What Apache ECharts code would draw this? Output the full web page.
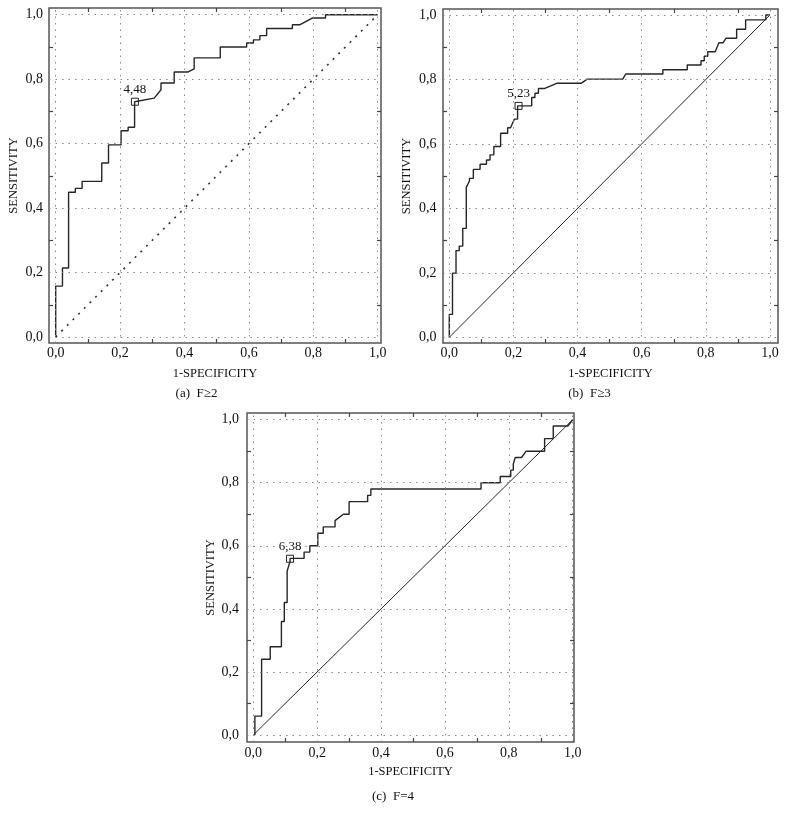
<!DOCTYPE html>
<html><head><meta charset="utf-8">
<script src="https://cdn.jsdelivr.net/npm/echarts@6/dist/echarts.min.js"></script>
<style>html,body{margin:0;padding:0;background:#fff}#c{width:786px;height:821px}</style>
</head><body><div id="c"></div>
<script>
// ---------- DATA ----------
const fprA = [0,0,0.021,0.021,0.040,0.040,0.061,0.061,0.082,0.082,0.143,0.143,0.164,0.164,0.203,0.203,0.225,0.225,0.245,0.245,0.306,0.327,0.327,0.368,0.368,0.410,0.430,0.430,0.511,0.511,0.593,0.593,0.614,0.614,0.634,0.634,0.655,0.655,0.735,0.735,0.759,0.798,0.838,0.838,1.0];
const tprA = [0,0.158,0.158,0.214,0.214,0.449,0.449,0.461,0.461,0.483,0.483,0.540,0.540,0.596,0.596,0.640,0.640,0.651,0.651,0.730,0.741,0.767,0.788,0.788,0.822,0.822,0.832,0.866,0.866,0.900,0.900,0.912,0.912,0.922,0.922,0.935,0.935,0.957,0.957,0.969,0.969,0.990,0.990,1.0,1.0];

const fprB = [0,0,0.010,0.010,0.021,0.021,0.031,0.031,0.042,0.042,0.053,0.053,0.063,0.063,0.075,0.075,0.096,0.096,0.116,0.116,0.127,0.127,0.139,0.139,0.160,0.160,0.182,0.182,0.191,0.203,0.213,0.213,0.257,0.257,0.267,0.267,0.278,0.278,0.298,0.335,0.411,0.430,0.541,0.550,0.666,0.666,0.742,0.742,0.785,0.785,0.795,0.795,0.806,0.806,0.829,0.836,0.841,0.841,0.854,0.863,0.896,0.896,0.924,0.924,0.987,0.987,1.0];
const tprB = [0,0.071,0.071,0.199,0.199,0.269,0.269,0.283,0.283,0.338,0.338,0.465,0.485,0.493,0.493,0.521,0.521,0.537,0.537,0.550,0.550,0.566,0.566,0.592,0.592,0.633,0.633,0.650,0.650,0.677,0.677,0.718,0.718,0.744,0.744,0.757,0.757,0.772,0.772,0.788,0.788,0.801,0.801,0.817,0.817,0.830,0.830,0.845,0.845,0.858,0.858,0.872,0.872,0.886,0.886,0.902,0.902,0.914,0.914,0.928,0.928,0.956,0.956,0.985,0.985,1.0,1.0];

const fprC = [0.005,0.005,0.026,0.026,0.053,0.053,0.088,0.088,0.097,0.097,0.106,0.106,0.115,0.115,0.159,0.159,0.177,0.177,0.202,0.202,0.219,0.219,0.256,0.256,0.262,0.282,0.300,0.300,0.358,0.358,0.368,0.368,0.713,0.713,0.773,0.773,0.806,0.806,0.814,0.814,0.820,0.820,0.840,0.854,0.912,0.912,0.939,0.939,0.985,1.0];
const tprC = [0,0.060,0.060,0.240,0.240,0.280,0.280,0.360,0.360,0.420,0.420,0.520,0.550,0.560,0.560,0.580,0.580,0.600,0.600,0.640,0.640,0.660,0.660,0.680,0.680,0.700,0.700,0.740,0.740,0.760,0.760,0.780,0.780,0.800,0.800,0.820,0.820,0.840,0.840,0.860,0.860,0.880,0.880,0.900,0.900,0.940,0.940,0.980,0.980,1.0];

const refX = [0, 1];
const refY = [0, 1];

const cutX = [0.246, 0.216, 0.115];
const cutY = [0.730, 0.718, 0.559];
const cutLabels = ['4,48', '5,23', '6,38'];

const captions = ['(a)  F≥2', '(b)  F≥3', '(c)  F=4'];
const xTitle = '1-SPECIFICITY';
const yTitle = 'SENSITIVITY';
const majorTicks = [0, 0.2, 0.4, 0.6, 0.8, 1.0];
const minorTicks = [0.1, 0.3, 0.5, 0.7, 0.9];

// ---------- LAYOUT / STYLE ----------
const FONT = "'Liberation Serif','DejaVu Serif',serif";
const INK = '#262626';
const TXT = '#111';
const grids = [
  {left: 49, top: 8, width: 332, height: 335},
  {left: 443, top: 9, width: 335, height: 334},
  {left: 247, top: 413, width: 327, height: 329}
];
const xRanges = [[-0.0208, 1.0102], [-0.0196, 1.025], [-0.0197, 1.004]];
const yRanges = [[-0.0186, 1.0208], [-0.0177, 1.0186], [-0.0222, 1.0212]];
const yLabelMargin = [6, 6.5, 8];
const xLabelMargin = [3, 3, 4];
const yNameGap = [29, 30, 29];
const xNameGap = [24, 24, 23];
const captionPos = [[196.5, 394], [589.5, 394], [393, 797]];

const curves = [[fprA, tprA], [fprB, tprB], [fprC, tprC]];
const fmt = v => v.toFixed(1).replace('.', ',');
const tickStyle = {show: true, inside: true, length: 4, customValues: minorTicks, lineStyle: {color: '#444', width: 1.2}};

const xAxis = [], yAxis = [], series = [], gridOpts = [];
for (let i = 0; i < 3; i++) {
  gridOpts.push(Object.assign({show: true, borderColor: '#555', borderWidth: 1.5, backgroundColor: '#fff', outerBoundsMode: 'none', containLabel: false}, grids[i]));
  const common = {type: 'value', gridIndex: i, splitLine: {show: false}, axisLine: {show: false, onZero: false}};
  xAxis.push(Object.assign({}, common, {
    position: 'bottom', min: xRanges[i][0], max: xRanges[i][1],
    axisTick: tickStyle,
    axisLabel: {customValues: majorTicks, formatter: fmt, fontFamily: FONT, fontSize: 14, color: TXT, margin: xLabelMargin[i]},
    name: xTitle, nameLocation: 'middle', nameGap: xNameGap[i],
    nameTextStyle: {fontFamily: FONT, fontSize: 12.5, color: TXT}
  }));
  xAxis.push(Object.assign({}, common, {
    position: 'top', min: xRanges[i][0], max: xRanges[i][1],
    axisTick: tickStyle,
    axisLabel: {show: false}
  }));
  yAxis.push(Object.assign({}, common, {
    position: 'left', min: yRanges[i][0], max: yRanges[i][1],
    axisTick: tickStyle,
    axisLabel: {customValues: majorTicks, formatter: fmt, fontFamily: FONT, fontSize: 14, color: TXT, margin: yLabelMargin[i]},
    name: yTitle, nameLocation: 'middle', nameGap: yNameGap[i],
    nameTextStyle: {fontFamily: FONT, fontSize: 12.5, color: TXT}
  }));
  yAxis.push(Object.assign({}, common, {
    position: 'right', min: yRanges[i][0], max: yRanges[i][1],
    axisTick: tickStyle,
    axisLabel: {show: false}
  }));

  const xi = 2 * i, yi = 2 * i;
  const gridLines = majorTicks.map(v => ({xAxis: v})).concat(majorTicks.map(v => ({yAxis: v})));
  // reference diagonal (with dotted grid as markLines)
  series.push({
    type: 'line', xAxisIndex: xi, yAxisIndex: yi, silent: true, showSymbol: false,
    data: refX.map((x, k) => [x, refY[k]]),
    lineStyle: i === 0 ? {color: '#333', width: 1.6, type: [2, 6]} : {color: INK, width: 1},
    markLine: {
      silent: true, symbol: 'none', label: {show: false},
      lineStyle: {color: '#888', width: 1, type: [1.5, 5]},
      data: gridLines
    },
    z: 2
  });
  // ROC curve
  series.push({
    type: 'line', xAxisIndex: xi, yAxisIndex: yi, silent: true, showSymbol: false,
    data: curves[i][0].map((x, k) => [x, curves[i][1][k]]),
    lineStyle: {color: INK, width: 1.4},
    z: 3
  });
  // cutoff marker
  series.push({
    type: 'scatter', xAxisIndex: xi, yAxisIndex: yi, silent: true,
    symbol: 'rect', symbolSize: 7,
    data: [[cutX[i], cutY[i]]],
    itemStyle: {color: 'rgba(255,255,255,0)', borderColor: '#222', borderWidth: 1, opacity: 1},
    label: {show: true, position: 'top', distance: 2, formatter: cutLabels[i], fontFamily: FONT, fontSize: 13, color: TXT, opacity: 1},
    z: 4
  });
}

const graphic = captions.map((t, i) => ({
  type: 'text', x: captionPos[i][0], y: captionPos[i][1],
  style: {text: t, fontFamily: FONT, fontSize: 13, fill: TXT, align: 'center', verticalAlign: 'middle'}
}));

const chart = echarts.init(document.getElementById('c'), null, {renderer: 'canvas'});
chart.setOption({
  animation: false,
  backgroundColor: '#fff',
  grid: gridOpts, xAxis, yAxis, series, graphic
});
</script>
</body></html>
